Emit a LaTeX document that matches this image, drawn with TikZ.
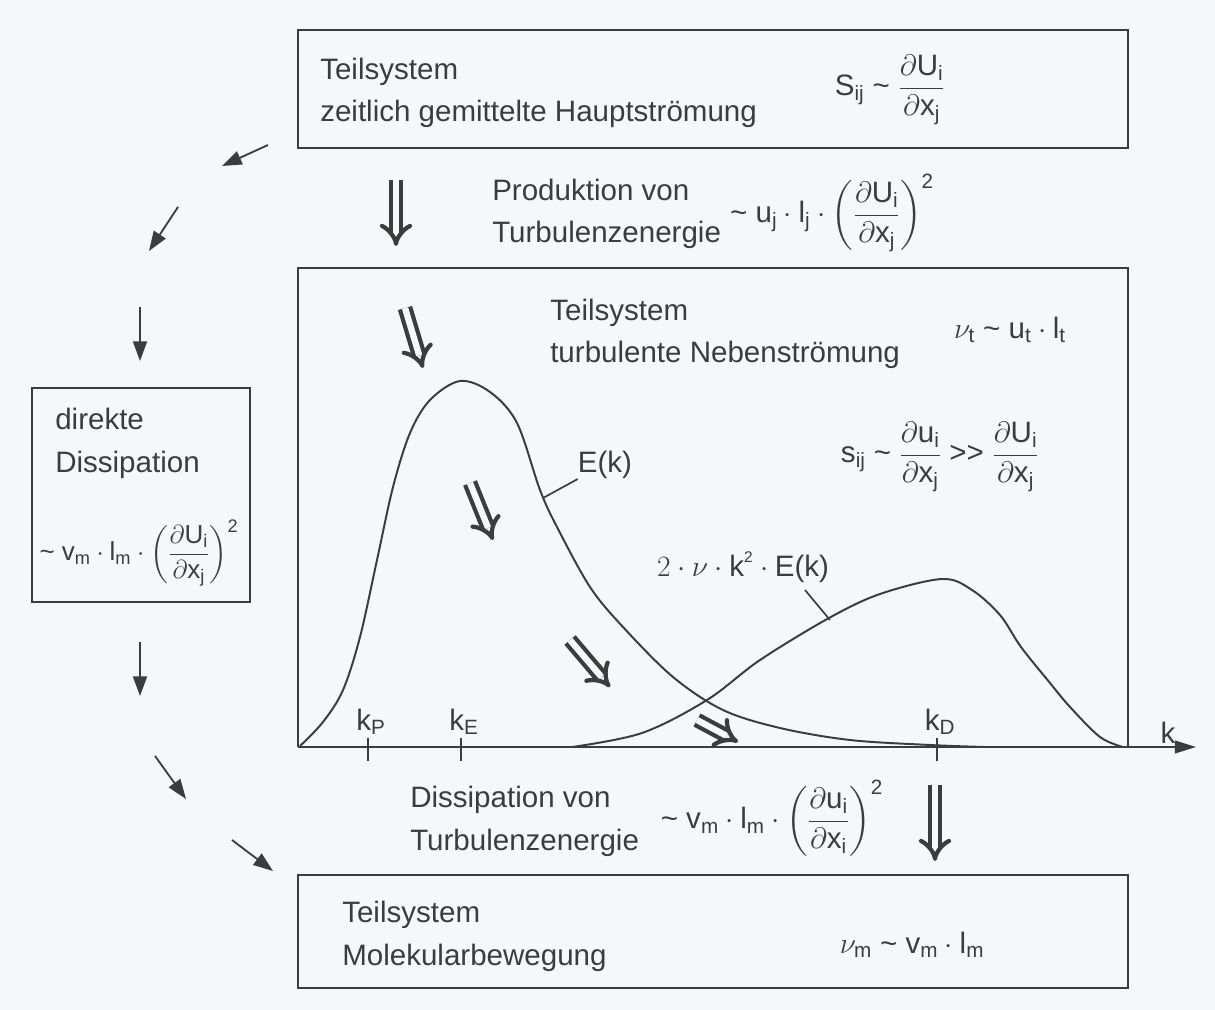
\documentclass[tikz,border=0pt]{standalone}
\usepackage{fix-cm}
\usepackage{amsmath}
\usepackage{fontspec}
\setmainfont{Liberation Sans}
\usepackage{tikz}
\usetikzlibrary{arrows.meta}
\definecolor{ink}{RGB}{60,60,60}
\definecolor{paper}{RGB}{245,247,250}
\newcommand{\pdiff}[2]{\dfrac{\partial\mathrm{#1}}{\partial\mathrm{#2}}}
\newcommand{\tld}{\mathrel{\text{\textasciitilde}}}

\begin{document}
\begin{tikzpicture}[x=0.025cm, y=-0.025cm,
    txt/.style={font=\fontsize{21}{30.5}\selectfont, text=ink, inner sep=0pt},
    sysbox/.style={draw=ink, line width=1.6pt},
    flow/.style={draw=ink, line width=1.3pt, -{Triangle[length=14pt, width=10pt]}},
    bigflow/.style={draw=ink, line width=3pt, double=paper, double distance=4.5pt, -{Implies[scale=1.3]}},
    curve/.style={draw=ink, line width=1.4pt},
    tick/.style={draw=ink, line width=1.2pt}]
    \fill[paper] (0,0) rectangle (1215,1010);
    \useasboundingbox (0,0) rectangle (1215,1010);

    % Hauptstroemung
    \draw[sysbox] (298,30) rectangle (1128,148);
    \node[txt, anchor=base west, align=left] (hauptT) at (320,122) {Teilsystem\\zeitlich gemittelte Hauptströmung};
    \node[txt] (hauptF) at (890,90) {$\mathrm{S_{ij}}\tld\pdiff{U_i}{x_j}$};

    \coordinate (prodA) at (396,180);
    \coordinate (prodB) at (396,246);
    \draw[bigflow] (prodA) -- (prodB);
    \node[txt, anchor=base west, align=left] (prodT) at (492,243) {Produktion von\\Turbulenzenergie};
    \node[txt] (prodF) at (832,213) {$\tld\mathrm{u_j}\cdot\mathrm{l_j}\cdot\left(\pdiff{U_i}{x_j}\right)^{\mathrm{2}}$};

    % Nebenstroemung mit Spektrum
    \draw[sysbox] (298,747) |- (1128,268) -- (1128,747);
    \node[txt, anchor=base west, align=left] (nebenT) at (550,363) {Teilsystem\\turbulente Nebenströmung};
    \node[txt] (nebenF) at (1010,330) {$\nu_{\mathrm{t}}\tld\mathrm{u_t}\cdot\mathrm{l_t}$};
    \node[txt] (schubF) at (940,457) {$\mathrm{s_{ij}}\tld\pdiff{u_i}{x_j}\mathrel{\text{>{}>}}\pdiff{U_i}{x_j}$};

    \coordinate (ax0) at (298,747);
    \coordinate (ax1) at (1196,747);
    \draw[draw=ink, line width=1.4pt, -{Triangle[length=15pt, width=9pt]}] (ax0) -- (ax1);
    \node[txt] (kAx) at (1168,733) {k};

    \draw[curve] plot[smooth, tension=0.55] coordinates {(300,746) (323,722) (343,690) (360,637)
        (377,560) (393,487) (410,433) (430,400) (460,381) (490,392) (517,423) (540,490)
        (557,527) (590,587) (623,627) (673,677) (723,710) (780,728) (850,740) (930,745) (985,747)};
    \draw[curve] plot[smooth, tension=0.55] coordinates {(572,747) (642,733) (707,700) (760,660)
        (829,618) (880,594) (942,579) (972,590) (1000,615) (1021,647) (1050,683) (1070,707)
        (1100,737) (1123,747)};

    \node[txt] (eLab) at (605,465) {E(k)};
    \draw[curve, line width=1.2pt] (eLab.south west) -- (543,498);
    \node[txt] (dLab) at (743,567) {$2\cdot\nu\cdot\text{k}^{\text{\fontsize{11}{11}\selectfont 2}}\cdot\text{E(k)}$};
    \draw[curve, line width=1.2pt] (805,590) -- (830,620);

    \foreach \kx/\kn/\ks in {368/kP/P, 461/kE/E, 937/kD/D} {
        \draw[tick] (\kx,738) -- (\kx,761);
        \node[txt] (\kn) at (\kx+3,722) {$\mathrm{k_\ks}$};
    }

    \draw[bigflow] (405,308) -- (423,368);
    \draw[bigflow] (470,483) -- (493,540);
    \draw[bigflow] (570,640) -- (610,687);
    \draw[bigflow] (697,720) -- (738,742);

    % Dissipation
    \node[txt, anchor=base west, align=left] (dissT) at (410,850) {Dissipation von\\Turbulenzenergie};
    \node[txt] (dissF) at (772,818) {$\tld\mathrm{v_m}\cdot\mathrm{l_m}\cdot\left(\pdiff{u_i}{x_i}\right)^{\mathrm{2}}$};
    \coordinate (dissA) at (935,785);
    \coordinate (dissB) at (935,861);
    \draw[bigflow] (dissA) -- (dissB);

    % Molekularbewegung
    \draw[sysbox] (298,875) rectangle (1128,988);
    \node[txt, anchor=base west, align=left] (molT) at (342,965) {Teilsystem\\Molekularbewegung};
    \node[txt] (molF) at (912,945) {$\nu_{\mathrm{m}}\tld\mathrm{v_m}\cdot\mathrm{l_m}$};

    % direkte Dissipation
    \draw[sysbox] (32,388) rectangle (250,602);
    \node[txt, anchor=base west, align=left] (dirT) at (55,472) {direkte\\Dissipation};
    \node[txt, font=\fontsize{18.5}{24}\selectfont] (dirF) at (139,553) {$\tld\mathrm{v_m}\cdot\mathrm{l_m}\cdot\left(\pdiff{U_i}{x_j}\right)^{\mathrm{2}}$};

    \coordinate (l1a) at (268,145); \coordinate (l1b) at (222,166);
    \coordinate (l2a) at (178,207); \coordinate (l2b) at (149,251);
    \coordinate (l3a) at (140,307); \coordinate (l3b) at (140,361);
    \coordinate (l4a) at (140,642); \coordinate (l4b) at (140,696);
    \coordinate (l5a) at (155,756); \coordinate (l5b) at (186,799);
    \coordinate (l6a) at (232,840); \coordinate (l6b) at (273,871);
    \foreach \n in {1,...,6} \draw[flow] (l\n a) -- (l\n b);
\end{tikzpicture}
\end{document}
